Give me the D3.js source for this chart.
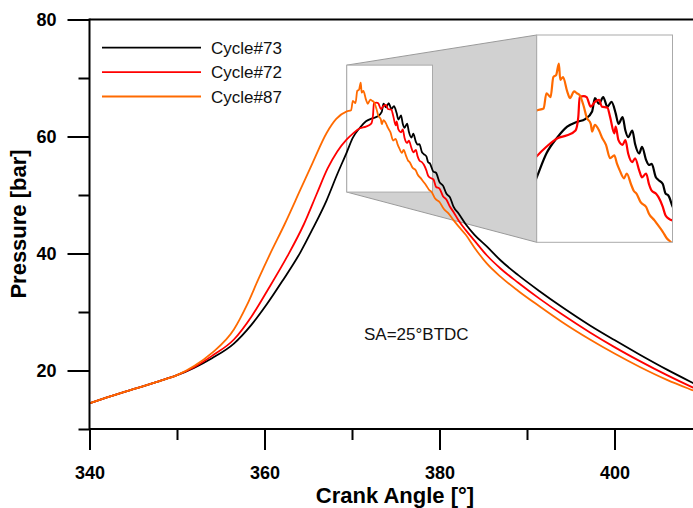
<!DOCTYPE html>
<html>
<head>
<meta charset="utf-8">
<script src="https://cdn.jsdelivr.net/npm/d3@7"></script>
<style>
  html, body { margin: 0; padding: 0; background: #fff; }
  svg { display: block; font-family: Arial, "Liberation Sans", sans-serif; }
</style>
</head>
<body>
<div id="chart"></div>
<script>
// crank angle [deg], pressure [bar]
const cycle73 = [
  [340, 14.4], [342, 15.4], [345, 16.8], [348, 18.2], [350, 19.2], [352, 20.5], [354, 22.1],
  [356.5, 24.6], [358.5, 27.8], [360.3, 31.4], [362, 35.2], [364.1, 40.2], [365.5, 44.2],
  [367.1, 49.1], [368.3, 53.5], [369.4, 57.3], [370.1, 59.8], [370.9, 61.5], [371.6, 62.6],
  [372.3, 63.1], [372.9, 63.4], [373.4, 64.2], [373.6, 65.6], [373.9, 65.0], [374.2, 65.7],
  [374.5, 64.7], [374.8, 65.2], [375.1, 64.0], [375.3, 62.9], [375.6, 63.6], [375.8, 62.2],
  [376.0, 61.5], [376.3, 62.2], [376.5, 60.8], [376.8, 59.8], [377.0, 60.5], [377.3, 59.1],
  [377.5, 58.6], [377.7, 58.7], [378.0, 57.3], [378.2, 57.0], [378.5, 56.6], [378.7, 55.6],
  [378.9, 55.4], [379.3, 54.0], [379.6, 53.8], [380.0, 52.2], [380.4, 51.6], [380.8, 50.2],
  [381.2, 49.6], [381.6, 48.0], [382.2, 46.8], [383, 45.0], [384, 43.2], [385.4, 41.2],
  [387, 38.8], [389, 36.3], [391.4, 33.6], [394, 30.85], [397.2, 27.7], [400, 25.2],
  [402.9, 22.7], [406, 20.15], [408.8, 18.0], [410, 17.1]
]

const cycle72 = [
  [340, 14.4], [342, 15.4], [345, 16.8], [348, 18.2], [350, 19.2], [352, 20.6], [354, 22.5],
  [356.5, 25.3], [358.5, 29.2], [360.3, 33.6], [362.6, 39.5], [364.5, 45.0], [366.0, 50.3],
  [367.2, 54.5], [368.3, 57.4], [369.4, 59.5], [370.1, 60.5], [370.9, 61.4], [371.6, 61.7],
  [372.2, 62.2], [372.4, 63.6], [372.5, 65.7], [372.8, 65.8], [373.0, 65.7], [373.3, 64.7],
  [373.6, 65.2], [373.9, 65.4], [374.1, 64.7], [374.5, 64.6], [374.7, 63.6], [375.0, 61.9],
  [375.1, 62.6], [375.3, 61.2], [375.6, 60.7], [375.8, 61.2], [376.0, 59.8], [376.3, 58.9],
  [376.5, 59.3], [376.8, 58.0], [377.0, 57.3], [377.3, 57.7], [377.5, 56.6], [377.7, 55.9],
  [378.0, 55.6], [378.2, 55.2], [378.5, 54.2], [378.7, 53.3], [379.0, 52.9], [379.3, 52.7],
  [379.6, 51.4], [380.0, 51.1], [380.4, 49.8], [380.8, 49.2], [381.2, 48.0], [381.6, 47.1],
  [382.2, 45.6], [383, 44.0], [384, 42.2], [385.4, 39.7], [387, 37.4], [389, 35.0],
  [391.5, 32.2], [394, 29.6], [397.2, 26.5], [400, 24.0], [402.9, 21.6], [406, 19.2],
  [408.8, 17.2], [410, 16.4]
]

const cycle87 = [
  [340, 14.4], [342, 15.4], [345, 16.8], [348, 18.2], [350, 19.2], [352, 20.8], [354, 23.0],
  [356.5, 27.0], [358, 31.2], [359.3, 35.6], [360.6, 39.8], [362.3, 45.0], [364.1, 50.9],
  [365.5, 55.5], [367.1, 60.6], [368.2, 63.0], [369.4, 64.3], [369.9, 64.5], [370.1, 66.1],
  [370.4, 65.7], [370.6, 67.8], [370.8, 68.0], [371.0, 69.2], [371.1, 67.5], [371.3, 67.8],
  [371.6, 66.3], [371.8, 65.6], [372.1, 66.3], [372.3, 66.1], [372.5, 65.9], [372.8, 64.7],
  [373.0, 63.6], [373.3, 62.9], [373.4, 62.1], [373.6, 62.8], [373.9, 62.2], [374.1, 61.5],
  [374.4, 60.7], [374.7, 59.3], [375.0, 59.6], [375.2, 58.7], [375.4, 58.0], [375.7, 57.2],
  [375.9, 57.7], [376.2, 56.6], [376.4, 55.9], [376.6, 55.6], [376.9, 54.7], [377.3, 54.2],
  [377.5, 53.5], [377.9, 52.8], [378.1, 52.4], [378.5, 51.6], [378.8, 50.9], [379.1, 50.5],
  [379.5, 49.4], [380, 48.8], [380.5, 47.6], [381, 46.9], [381.6, 45.7], [382.2, 44.6],
  [383, 43.2], [384, 41.0], [385.4, 38.3], [387, 36.0], [389, 33.6], [391.5, 30.9],
  [394, 28.3], [397.2, 25.3], [400, 22.9], [402.9, 20.6], [406, 18.4], [408.8, 16.7], [410, 16.0]
]

const seriesNames = ['Cycle#73', 'Cycle#72', 'Cycle#87']
const seriesColors = ['#000000', '#ff0000', '#ff6a00']
const xMajorTicks = [340, 360, 380, 400]
const xMinorTicks = [350, 370, 390, 410]
const yMajorTicks = [20, 40, 60, 80]
const yMinorTicks = [10, 30, 50, 70]
const zoomAngle = [369.4, 379.2]
const zoomPressure = [50.5, 72.2]

const W = 693
const H = 508
const series = [cycle73, cycle72, cycle87]

const svg = d3.select('#chart').append('svg')
  .attr('width', W)
  .attr('height', H)

const x = d3.scaleLinear().domain([340, 410]).range([89.5, 702])
const y = d3.scaleLinear().domain([10, 80]).range([429, 19.5])

const defs = svg.append('defs')
defs.append('clipPath').attr('id', 'plot-clip')
  .append('rect')
  .attr('x', x(340)).attr('y', y(80))
  .attr('width', x(410) - x(340)).attr('height', y(10) - y(80))

// zoomed window
const bigBox = { x0: 536.7, x1: 672.5, y0: 35, y1: 242.3 }
const zx = d3.scaleLinear().domain(zoomAngle).range([bigBox.x0, bigBox.x1])
const zy = d3.scaleLinear().domain(zoomPressure).range([bigBox.y1, bigBox.y0])

defs.append('clipPath').attr('id', 'zoom-clip')
  .append('rect')
  .attr('x', bigBox.x0).attr('y', bigBox.y0)
  .attr('width', bigBox.x1 - bigBox.x0).attr('height', bigBox.y1 - bigBox.y0)

const small = {
  x0: x(zoomAngle[0]), x1: x(zoomAngle[1]),
  y0: y(zoomPressure[1]), y1: y(zoomPressure[0])
}

// gray connector
svg.append('path')
  .attr('d', `M${small.x0},${small.y0}L${bigBox.x0},${bigBox.y0}L${bigBox.x0},${bigBox.y1}L${small.x0},${small.y1}Z`)
  .attr('fill', '#d1d1d1')
  .attr('stroke', '#9a9a9a')
  .attr('stroke-width', 1)

svg.append('rect')
  .attr('x', small.x0).attr('y', small.y0)
  .attr('width', small.x1 - small.x0).attr('height', small.y1 - small.y0)
  .attr('fill', '#fff')
  .attr('stroke', '#aaaaaa')
  .attr('stroke-width', 1)

// main curves
const line = d3.line().curve(d3.curveMonotoneX).x(d => x(d[0])).y(d => y(d[1]))
const curves = svg.append('g').attr('clip-path', 'url(#plot-clip)')
series.forEach((s, i) => {
  curves.append('path')
    .datum(s)
    .attr('d', line)
    .attr('fill', 'none')
    .attr('stroke', seriesColors[i])
    .attr('stroke-width', 1.8)
    .attr('stroke-linejoin', 'round')
})

// big box with magnified curves
svg.append('rect')
  .attr('x', bigBox.x0).attr('y', bigBox.y0)
  .attr('width', bigBox.x1 - bigBox.x0).attr('height', bigBox.y1 - bigBox.y0)
  .attr('fill', '#fff')

const zline = d3.line().curve(d3.curveMonotoneX).x(d => zx(d[0])).y(d => zy(d[1]))
const zcurves = svg.append('g').attr('clip-path', 'url(#zoom-clip)')
series.forEach((s, i) => {
  zcurves.append('path')
    .datum(s)
    .attr('d', zline)
    .attr('fill', 'none')
    .attr('stroke', seriesColors[i])
    .attr('stroke-width', 2.2)
    .attr('stroke-linejoin', 'round')
})

svg.append('rect')
  .attr('x', bigBox.x0).attr('y', bigBox.y0)
  .attr('width', bigBox.x1 - bigBox.x0).attr('height', bigBox.y1 - bigBox.y0)
  .attr('fill', 'none')
  .attr('stroke', '#aaaaaa')
  .attr('stroke-width', 1)

// axes
const styleAxis = g => {
  g.selectAll('.domain').remove()
  g.selectAll('line').attr('stroke', '#000').attr('stroke-width', 2)
  g.selectAll('text')
    .attr('fill', '#000')
    .attr('font-size', 18)
    .attr('font-weight', 'bold')
    .attr('font-family', 'Arial, "Liberation Sans", sans-serif')
}

svg.append('g')
  .attr('transform', `translate(${x(340)},0)`)
  .call(d3.axisLeft(y).tickValues(yMajorTicks).tickSize(22).tickPadding(11).tickFormat(d3.format('d')))
  .call(styleAxis)
svg.append('g')
  .attr('transform', `translate(${x(340)},0)`)
  .call(d3.axisLeft(y).tickValues(yMinorTicks).tickSize(11).tickFormat(''))
  .call(styleAxis)

svg.append('g')
  .attr('transform', `translate(0,${y(10)})`)
  .call(d3.axisBottom(x).tickValues(xMajorTicks).tickSize(21).tickPadding(16).tickFormat(d3.format('d')))
  .call(styleAxis)
svg.append('g')
  .attr('transform', `translate(0,${y(10)})`)
  .call(d3.axisBottom(x).tickValues(xMinorTicks).tickSize(11).tickFormat(''))
  .call(styleAxis)

// frame lines
svg.append('line')
  .attr('x1', x(340)).attr('x2', x(340)).attr('y1', y(80) - 1).attr('y2', y(10) + 1)
  .attr('stroke', '#000').attr('stroke-width', 2)
svg.append('line')
  .attr('x1', x(340)).attr('x2', W).attr('y1', y(10)).attr('y2', y(10))
  .attr('stroke', '#000').attr('stroke-width', 2)
svg.append('line')
  .attr('x1', x(340)).attr('x2', W).attr('y1', y(80)).attr('y2', y(80))
  .attr('stroke', '#000').attr('stroke-width', 2)

// axis titles
svg.append('text')
  .attr('x', 395).attr('y', 503)
  .attr('text-anchor', 'middle')
  .attr('font-size', 22).attr('font-weight', 'bold')
  .text('Crank Angle [°]')

svg.append('text')
  .attr('transform', 'translate(26,224) rotate(-90)')
  .attr('text-anchor', 'middle')
  .attr('font-size', 22).attr('font-weight', 'bold')
  .text('Pressure [bar]')

// legend
const legend = svg.append('g').attr('class', 'legend')
seriesNames.forEach((name, i) => {
  const ly = 47.7 + i * 24.4
  legend.append('line')
    .attr('x1', 102).attr('x2', 201).attr('y1', ly).attr('y2', ly)
    .attr('stroke', seriesColors[i]).attr('stroke-width', 1.8)
  legend.append('text')
    .attr('x', 211).attr('y', ly + 6)
    .attr('font-size', 17)
    .attr('fill', '#111')
    .text(name)
})

svg.append('text')
  .attr('x', 364).attr('y', 340)
  .attr('font-size', 17)
  .attr('fill', '#111')
  .text('SA=25°BTDC')
</script>
</body>
</html>
